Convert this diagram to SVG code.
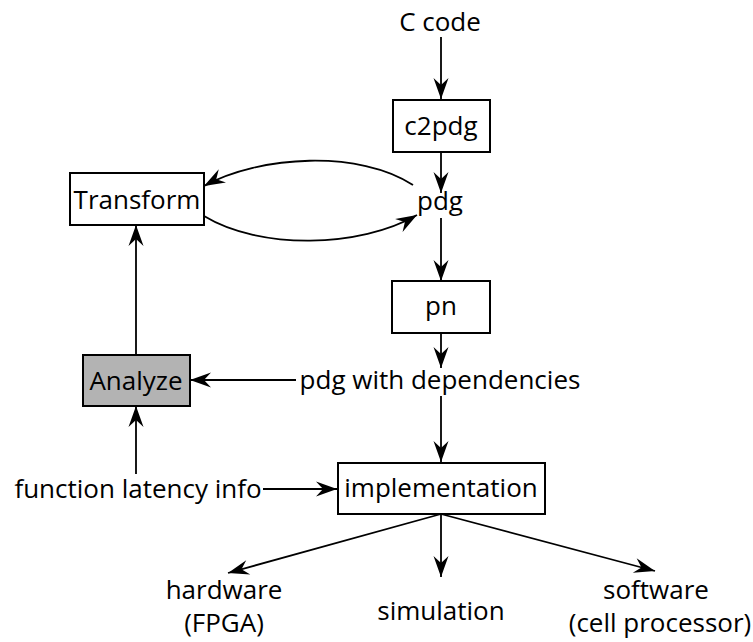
<svg xmlns="http://www.w3.org/2000/svg" width="753" height="642" viewBox="0 0 753 642">
  <style>
    text { font-family: "Open Sans", "Noto Sans", sans-serif; font-size: 26px; fill: #000; text-anchor: middle; }
    .box { fill: #fff; stroke: #000; stroke-width: 2; }
    .box.shaded { fill: #b3b3b3; }
    .edge { fill: none; stroke: #000; stroke-width: 1.8; marker-end: url(#arrow); }
  </style>
  <defs>
    <marker id="arrow" markerUnits="userSpaceOnUse" viewBox="-23 -9 25 18" refX="0" refY="0" markerWidth="25" markerHeight="18" orient="auto">
      <path d="M0,0 L-21,-7.5 L-14,0 L-21,7.5 Z" fill="#000"/>
    </marker>
  </defs>

  <g id="connectors">
    <path class="edge" d="M441,37 L441,99"/>
    <path class="edge" d="M441,152 L441,193"/>
    <path class="edge" d="M413,185 C360,150 260,155 204,186"/>
    <path class="edge" d="M204,216 C260,250 360,248 417,215"/>
    <path class="edge" d="M441,218 L441,281"/>
    <path class="edge" d="M441,333 L441,368"/>
    <path class="edge" d="M296,380 L190,380"/>
    <path class="edge" d="M136,355 L136,225"/>
    <path class="edge" d="M136,474 L136,406"/>
    <path class="edge" d="M263,489 L337,489"/>
    <path class="edge" d="M441,396 L441,462"/>
    <path class="edge" d="M441,514 L228,573"/>
    <path class="edge" d="M441,514 L441,577"/>
    <path class="edge" d="M441,514 L655,571"/>
  </g>

  <g id="c-code"><text x="440" y="31">C code</text></g>
  <g id="c2pdg">
    <rect class="box" x="393" y="100" width="97" height="52"/>
    <text x="441" y="135">c2pdg</text>
  </g>
  <g id="pdg"><text x="440" y="210">pdg</text></g>
  <g id="transform">
    <rect class="box" x="70" y="173" width="134" height="52"/>
    <text x="137" y="209">Transform</text>
  </g>
  <g id="pn">
    <rect class="box" x="392" y="281" width="98" height="52"/>
    <text x="441" y="315">pn</text>
  </g>
  <g id="pdg-deps"><text x="440" y="389">pdg with dependencies</text></g>
  <g id="analyze">
    <rect class="box shaded" x="83" y="355" width="107" height="51"/>
    <text x="136" y="390">Analyze</text>
  </g>
  <g id="latency-info"><text x="138" y="498">function latency info</text></g>
  <g id="implementation">
    <rect class="box" x="338" y="463" width="207" height="51"/>
    <text x="441" y="497">implementation</text>
  </g>
  <g id="hardware">
    <text x="224" y="599">hardware</text>
    <text x="224" y="632">(FPGA)</text>
  </g>
  <g id="simulation"><text x="441" y="620">simulation</text></g>
  <g id="software">
    <text x="656" y="599">software</text>
    <text x="660" y="632">(cell processor)</text>
  </g>
</svg>
